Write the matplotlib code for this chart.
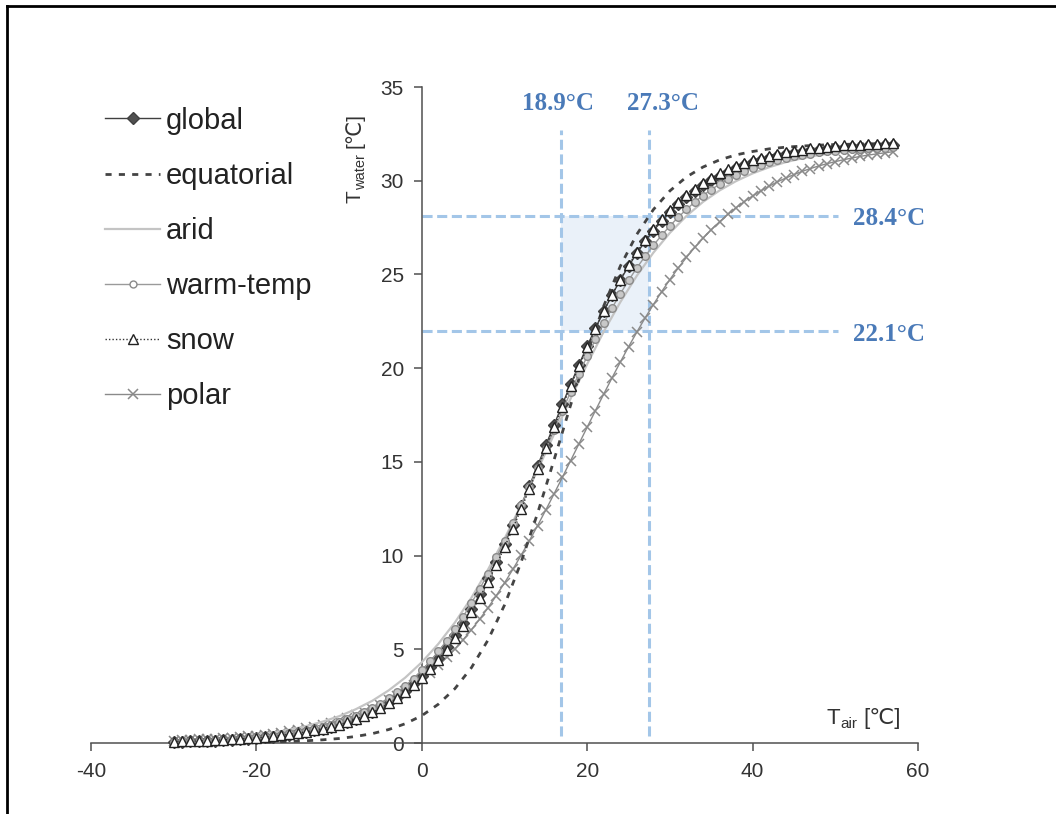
import matplotlib
matplotlib.use("Agg")
import matplotlib.pyplot as plt
from matplotlib.lines import Line2D
from matplotlib.patches import Rectangle

plt.rcParams['font.family'] = ['Liberation Sans', 'DejaVu Sans']
plt.rcParams['axes.unicode_minus'] = False

# ---------------- data ----------------
t_air = list(range(-30, 58))          # air temperature, 1 degree steps
t_air2 = list(range(-30, 57, 2))      # 2 degree steps (line-only series)

global_w = [0.07, 0.08, 0.09, 0.10, 0.11, 0.13, 0.15, 0.17, 0.20, 0.23, 0.26, 0.30, 0.34, 0.39, 0.45,
            0.51, 0.58, 0.67, 0.76, 0.87, 0.99, 1.14, 1.30, 1.48, 1.68, 1.92, 2.18, 2.47, 2.80, 3.18,
            3.59, 4.05, 4.56, 5.12, 5.74, 6.41, 7.14, 7.93, 8.78, 9.68, 10.62, 11.62, 12.65, 13.71,
            14.79, 15.89, 16.98, 18.07, 19.14, 20.18, 21.18, 22.14, 23.04, 23.90, 24.70, 25.44, 26.13,
            26.76, 27.33, 27.85, 28.32, 28.74, 29.12, 29.46, 29.76, 30.03, 30.27, 30.48, 30.67, 30.83,
            30.98, 31.10, 31.22, 31.31, 31.40, 31.47, 31.54, 31.60, 31.65, 31.70, 31.73, 31.77, 31.80,
            31.82, 31.84, 31.87, 31.88, 31.90]

equatorial = [0.01, 0.01, 0.01, 0.02, 0.03, 0.04, 0.06, 0.08, 0.12, 0.17, 0.24, 0.35, 0.50, 0.72,
              1.03, 1.46, 2.07, 2.90, 4.02, 5.49, 7.36, 9.64, 12.26, 15.12, 18.04, 20.82, 23.32,
              25.44, 27.14, 28.46, 29.46, 30.20, 30.73, 31.11, 31.38, 31.56, 31.70, 31.79, 31.85,
              31.90, 31.93, 31.95, 31.97, 31.98]

arid = [0.14, 0.17, 0.22, 0.28, 0.35, 0.45, 0.56, 0.71, 0.90, 1.14, 1.43, 1.80, 2.25, 2.81, 3.49,
        4.31, 5.29, 6.43, 7.75, 9.25, 10.90, 12.69, 14.56, 16.48, 18.38, 20.22, 21.95, 23.52, 24.93,
        26.16, 27.22, 28.12, 28.87, 29.48, 29.98, 30.39, 30.72, 30.99, 31.20, 31.37, 31.50, 31.60,
        31.69, 31.75]

warm_temp = [0.08, 0.09, 0.10, 0.12, 0.13, 0.15, 0.17, 0.20, 0.23, 0.26, 0.30, 0.34, 0.39, 0.45,
             0.51, 0.58, 0.66, 0.76, 0.86, 0.98, 1.11, 1.26, 1.43, 1.63, 1.85, 2.10, 2.38, 2.70,
             3.05, 3.44, 3.88, 4.36, 4.89, 5.46, 6.08, 6.75, 7.47, 8.23, 9.04, 9.90, 10.79, 11.72,
             12.68, 13.67, 14.68, 15.70, 16.72, 17.73, 18.73, 19.70, 20.64, 21.54, 22.40, 23.21,
             23.97, 24.68, 25.35, 25.97, 26.55, 27.09, 27.59, 28.05, 28.47, 28.86, 29.21, 29.53,
             29.81, 30.07, 30.30, 30.50, 30.68, 30.84, 30.98, 31.10, 31.21, 31.30, 31.38, 31.45,
             31.51, 31.56, 31.61, 31.65, 31.68, 31.71, 31.73, 31.75, 31.77, 31.78]

snow = [0.08, 0.09, 0.10, 0.11, 0.13, 0.15, 0.17, 0.19, 0.22, 0.25, 0.28, 0.32, 0.36, 0.41, 0.47,
        0.53, 0.60, 0.68, 0.77, 0.87, 0.98, 1.12, 1.27, 1.44, 1.63, 1.86, 2.11, 2.39, 2.71, 3.07,
        3.48, 3.93, 4.43, 4.98, 5.59, 6.26, 6.98, 7.76, 8.60, 9.50, 10.44, 11.44, 12.47, 13.54,
        14.63, 15.74, 16.85, 17.95, 19.04, 20.10, 21.12, 22.10, 23.03, 23.91, 24.73, 25.49, 26.19,
        26.84, 27.42, 27.95, 28.42, 28.85, 29.23, 29.57, 29.88, 30.15, 30.39, 30.60, 30.79, 30.95,
        31.10, 31.23, 31.34, 31.44, 31.52, 31.60, 31.66, 31.72, 31.77, 31.81, 31.85, 31.88, 31.91,
        31.93, 31.95, 31.97, 31.99, 32.00]

polar = [0.13, 0.15, 0.17, 0.19, 0.21, 0.23, 0.26, 0.29, 0.32, 0.36, 0.40, 0.45, 0.50, 0.56, 0.63,
         0.70, 0.78, 0.87, 0.97, 1.08, 1.20, 1.34, 1.49, 1.65, 1.84, 2.04, 2.27, 2.51, 2.78, 3.08,
         3.40, 3.76, 4.15, 4.57, 5.02, 5.51, 6.04, 6.61, 7.21, 7.86, 8.54, 9.26, 10.01, 10.79, 11.60,
         12.44, 13.30, 14.18, 15.07, 15.96, 16.85, 17.74, 18.62, 19.48, 20.32, 21.14, 21.92, 22.68,
         23.39, 24.08, 24.73, 25.34, 25.91, 26.44, 26.93, 27.39, 27.81, 28.20, 28.56, 28.89, 29.19,
         29.46, 29.71, 29.94, 30.14, 30.33, 30.50, 30.65, 30.79, 30.91, 31.02, 31.12, 31.21, 31.30,
         31.37, 31.43, 31.49, 31.55]

series_labels = ['global', 'equatorial', 'arid', 'warm-temp', 'snow', 'polar']

x_ticks = [-40, -20, 0, 20, 40, 60]
y_ticks = [0, 5, 10, 15, 20, 25, 30, 35]

# threshold guide lines and their labels
guide_x = [16.8, 27.5]
guide_x_labels = ['18.9°C', '27.3°C']
guide_y = [28.1, 22.0]
guide_y_labels = ['28.4°C', '22.1°C']

# ---------------- figure ----------------
fig = plt.figure(figsize=(10.56, 8.14), dpi=100)
ax = fig.add_axes([0.0862, 0.0872, 0.7831, 0.8059])
ax.set_xlim(-40, 60)
ax.set_ylim(0, 35)

axis_col = '#505050'
ax.spines['left'].set_position(('data', 0))
ax.spines['bottom'].set_position(('data', 0))
for s in ['top', 'right']:
    ax.spines[s].set_visible(False)
for s in ['left', 'bottom']:
    ax.spines[s].set_color(axis_col)
    ax.spines[s].set_linewidth(1.1)
ax.set_xticks(x_ticks)
ax.set_yticks(y_ticks)
ax.tick_params(axis='both', direction='out', length=6, width=1.1, color=axis_col,
               labelsize=15, labelcolor='#333333')
ax.tick_params(axis='x', pad=8)
ax.tick_params(axis='y', pad=7)

# shaded rectangle and guide lines
blue_line = '#a3c6e8'
blue_text = '#4a7ab8'
ax.add_patch(Rectangle((guide_x[0], guide_y[1]), guide_x[1] - guide_x[0], guide_y[0] - guide_y[1],
                       facecolor='#eaf1f9', edgecolor='none', zorder=1))
dash = (0, (3.3, 1.5))
for gx in guide_x:
    ax.plot([gx, gx], [0.4, 32.7], color=blue_line, lw=2.2, linestyle=dash, zorder=2)
for gy in guide_y:
    ax.plot([0, 50.3], [gy, gy], color=blue_line, lw=2.2, linestyle=dash, zorder=2)

serif_bold = dict(family='Liberation Serif', fontweight='bold', fontsize=18, color=blue_text)
ax.text(16.45, 34.1, guide_x_labels[0], ha='center', va='center', **serif_bold)
ax.text(29.2, 34.1, guide_x_labels[1], ha='center', va='center', **serif_bold)
ax.text(52.1, 27.96, guide_y_labels[0], ha='left', va='center', **serif_bold)
ax.text(52.1, 21.77, guide_y_labels[1], ha='left', va='center', **serif_bold)

# series
h_polar, = ax.plot(t_air, polar, color='#8a8a8a', lw=1.0, marker='x', ms=6.5, mew=1.1,
                   label=series_labels[5], zorder=3, clip_on=False)
h_arid, = ax.plot(t_air2, arid, color='#c4c4c4', lw=1.6, label=series_labels[2], zorder=3,
                  clip_on=False)
h_eq, = ax.plot(t_air2, equatorial, color='#444444', lw=2.0, linestyle=(0, (2.2, 2.6)),
                label=series_labels[1], zorder=4, clip_on=False)
h_glob, = ax.plot(t_air, global_w, color='#404040', lw=1.0, marker='D', ms=6,
                  mfc='#505050', mec='#404040', label=series_labels[0], zorder=5, clip_on=False)
h_warm, = ax.plot(t_air, warm_temp, color='#9a9a9a', lw=1.0, marker='o', ms=5.5,
                  mfc='#c8c8c8', mec='#8a8a8a', label=series_labels[3], zorder=6, clip_on=False)
h_snow, = ax.plot(t_air, snow, color='#333333', lw=1.0, linestyle=(0, (1, 1.5)), marker='^',
                  ms=7, mfc='white', mec='#222222', mew=1.0, label=series_labels[4], zorder=7,
                  clip_on=False)

# axis labels built from plain text pieces: main letter, subscript, unit
lab_col = '#333333'
# x label
ax.annotate('T', xy=(48.9, 1.0), xytext=(0, 0), textcoords='offset points',
            fontsize=16, color=lab_col, ha='left', va='baseline')
ax.annotate('air', xy=(48.9, 1.0), xytext=(10.2, -3.0), textcoords='offset points',
            fontsize=11, color=lab_col, ha='left', va='baseline')
ax.annotate('[℃]', xy=(48.9, 1.0), xytext=(26.5, 0), textcoords='offset points',
            fontsize=16, color=lab_col, ha='left', va='baseline')
# y label (rotated)
ax.annotate('T', xy=(-7.4, 28.8), xytext=(0, 0), textcoords='offset points', rotation=90,
            rotation_mode='anchor', fontsize=15, color=lab_col, ha='left', va='baseline')
ax.annotate('water', xy=(-7.4, 28.8), xytext=(3.0, 9.6), textcoords='offset points', rotation=90,
            rotation_mode='anchor', fontsize=10.5, color=lab_col, ha='left', va='baseline')
ax.annotate('[℃]', xy=(-7.4, 28.8), xytext=(0, 39.5), textcoords='offset points', rotation=90,
            rotation_mode='anchor', fontsize=15, color=lab_col, ha='left', va='baseline')

# legend
leg_handles = [
    Line2D([], [], color='#404040', lw=1.0, marker='D', ms=6, mfc='#505050', mec='#404040'),
    Line2D([], [], color='#444444', lw=2.0, linestyle=(0, (2.2, 2.6))),
    Line2D([], [], color='#c4c4c4', lw=1.6),
    Line2D([], [], color='#9a9a9a', lw=1.0, marker='o', ms=5, mfc='white', mec='#8a8a8a'),
    Line2D([], [], color='#333333', lw=1.0, linestyle=(0, (1, 1.5)), marker='^', ms=7,
           mfc='white', mec='#222222'),
    Line2D([], [], color='#8a8a8a', lw=1.0, marker='x', ms=7, mew=1.1),
]
fig.legend(leg_handles, series_labels, loc='upper left', bbox_to_anchor=(0.0994, 0.869),
           frameon=False, fontsize=21, handlelength=1.9, handletextpad=0.2,
           labelspacing=0.93, borderpad=0, borderaxespad=0, numpoints=1, labelcolor='#222222')

# outer frame (top and left edges visible)
fig.add_artist(Line2D([7 / 1056, 1.0], [1 - 6 / 814, 1 - 6 / 814], transform=fig.transFigure,
                      color='black', lw=2.0))
fig.add_artist(Line2D([7 / 1056, 7 / 1056], [0.0, 1 - 6 / 814], transform=fig.transFigure,
                      color='black', lw=2.0))

fig.savefig('out.png', dpi=100, facecolor='white')
